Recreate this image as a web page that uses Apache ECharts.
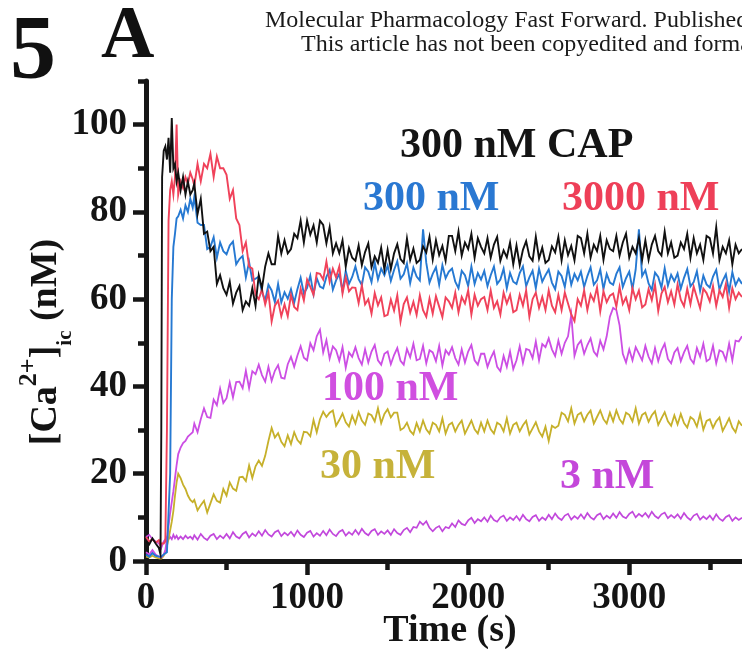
<!DOCTYPE html>
<html>
<head>
<meta charset="utf-8">
<script src="https://cdn.jsdelivr.net/npm/echarts@6/dist/echarts.min.js"></script>
<style>
html,body{margin:0;padding:0;background:#fff;}
#chart{width:742px;height:649px;}
</style>
</head>
<body>
<div id="chart"></div>
<script>
// Time points (s)
const times = [0,20,40,60,80,90,95,100,110,120,130,140,150,160,170,180,190,200,215,230,245,260,275,290,
300,320,340,360,380,400,420,440,460,480,
500,520,540,560,580,600,620,640,660,680,
700,720,740,760,780,800,820,840,860,880,
900,920,940,960,980,1000,1020,1040,1060,1080,
1100,1120,1140,1160,1180,1200,1220,1240,1260,1280,
1300,1320,1340,1360,1380,1400,1420,1440,1460,1480,
1500,1520,1540,1560,1580,1600,1620,1640,1660,1680,
1700,1720,1740,1760,1780,1800,1820,1840,1860,1880,
1900,1920,1940,1960,1980,2000,2020,2040,2060,2080,
2100,2120,2140,2160,2180,2200,2220,2240,2260,2280,
2300,2320,2340,2360,2380,2400,2420,2440,2460,2480,
2500,2520,2540,2560,2580,2600,2620,2640,2660,2680,
2700,2720,2740,2760,2780,2800,2820,2840,2860,2880,
2900,2920,2940,2960,2980,3000,3020,3040,3060,3080,
3100,3120,3140,3160,3180,3200,3220,3240,3260,3280,
3300,3320,3340,3360,3380,3400,3420,3440,3460,3480,
3500,3520,3540,3560,3580,3600,3620,3640,3660,3680,
3700];

// 300 nM CAP (black)
const cap300 = [4.5,3.8,5.2,4,3,1.5,30,88,94,95,92,97,89,101.5,90,91,87,89,85,88,84,87,84,85,
86.5,79.5,83,75,75.5,71,72,63.5,65.5,62.5,
61,64,59,61.5,63,57.5,59.5,58.5,62.5,58.5,
65.5,62.5,67.5,70.5,68,68,74.5,70.5,73.5,70.5,
71.5,75,74,78,73,78,74.8,76.9,73,78,
77,72.8,76.5,70.5,72.8,70.5,73.5,67.5,71.7,69.5,
68.8,72.3,67.8,70.8,72.8,67.3,69.8,68.3,71.8,66.8,
71.3,66.9,70.5,72.6,69.2,68.3,73.9,69,71.6,68.3,
69,72.1,70.7,74.3,69.1,73.5,70.1,72.2,68.8,74.5,
74.5,71,75.5,70,73,71.5,75,69.5,74,72,
70.5,74,69.5,72.5,74.3,68.8,71.2,69.6,73,68,
72.3,67.8,71.3,73.3,69.8,68.8,74.3,69.3,71.8,68.3,
69,72.1,70.7,74.3,68.9,73.5,70.1,72.2,68.9,74.5,
74,70.5,75,69.5,72.5,71,74.5,69,73.5,71.5,
71,74.5,70,73,75,69.5,72,70.5,74,69,
73.5,69,72.5,74.5,71,70,75.5,70.5,73,69.5,
70,73,71.5,75,69.5,74,70.5,72.5,69,74.5,
74,70.5,76.5,69,72,70.5,73.5,68,72.5,70.5,
71.5];

// 3000 nM (red)
const nM3000 = [5.5,4.5,5,4.2,4.8,3.5,4,3.8,4,4.5,30,78,85,87,84,88,100,84,87,85.5,88,86.5,89,87.5,
86,91,87,91,90,93.3,88,92.7,90,90,
88.5,83,85,78.5,77,71,73,67.5,67,61,
60,62.3,58.8,61.5,54.9,58.5,59.7,56.1,58.8,56.1,
61,58.2,57.5,62.4,59.7,64.5,62.8,61,66,65.8,
64.5,68.6,64,67,65,67.5,61.3,65,61.8,62.7,
62.6,59.1,63.2,58.8,60,56.7,61.4,58.6,60.4,56.1,
56.4,59.9,57.4,60.9,54.9,58.9,60.4,56.9,59.4,56.4,
60.9,57.5,56,60.1,56.7,60.7,58.3,55.9,60.4,59.5,
58,61.5,57,60.5,59,62,56.5,61,58.5,60,
60.5,57.5,62,58,59.5,56.5,61.5,59,61,57,
57.5,61,58.5,62,56,60,61.5,58,60.5,57.5,
62,58.5,57,61,57.5,61.5,59,56.5,55,60,
58.5,62,57.5,61.1,59.6,62.7,57.2,61.8,59.3,60.8,
61.3,58.3,62.8,58.9,60.4,57.5,62.5,60,62,58.1,
58.8,62.3,59.8,63.3,57.3,61.3,62.8,59.3,61.8,58.8,
63.4,59.9,58.4,62.4,58.9,62.9,60.4,57.9,62.4,61.4,
59.5,63,58.5,62,60.5,63.5,58,62.5,60,61.5,
60.5];

// 300 nM (blue)
const nM300 = [1.5,1,1.8,1.2,1,0.8,1,1.2,1.5,1.5,2,2,20,60,72,75,78.5,79,80.5,78.5,81.5,80,83,81,
83.5,77.5,77,77,71.5,72,74.2,69.5,73,71,
70.3,72.3,73.2,68,69.2,69.9,65,68.5,64.3,64.7,
65.2,61.6,59.7,63.3,62,59.3,63.5,59.3,61.6,60.1,
62.3,59.2,62.3,64.9,61.3,62.6,65.4,61.1,64.8,62.9,
62.5,65.1,66.7,62.2,64.3,65.8,61.9,66.5,63.5,65.1,
67.5,64.6,63.2,67.3,66.3,63.9,68.4,64.5,67,65.5,
67.7,64.2,66.7,68.7,64.7,65.7,68.2,63.7,67.2,65.2,
64.3,76,68.3,63.8,65.8,67.3,63.3,67.8,64.8,66.3,
67,64,62.5,66.5,65.5,63,67.5,63.5,66,64.5,
66.5,63,65.5,67.5,63.5,64.5,67,62.5,66,64,
63.5,66,67.5,63,65,66.5,62.5,67,64,65.5,
66.8,63.8,62.3,66.3,65.3,62.8,67.3,63.3,65.8,64.3,
66.3,62.8,65.3,67.3,63.3,64.3,66.8,62.3,65.8,63.8,
63.3,65.8,67.3,62.8,64.8,66.3,62.3,66.8,76,65.3,
66.6,63.6,62.1,66.1,65.1,62.6,67.1,63.1,65.6,64.1,
65.9,62.4,64.9,66.9,62.9,63.9,66.4,61.9,65.4,63.4,
62.7,65.2,66.7,62.2,64.2,65.7,61.7,66.2,63.2,64.7,
63.5];

// 100 nM (magenta)
const nM100 = [2,1.5,2.5,1.5,1,1,0.8,1,1.5,2.5,5,8,11,13.5,16,19,22,24.5,26,27,27.5,28.5,29,29.5,
31.5,29.5,32.5,35,33,32.8,37,35.7,39.5,36.2,
37.3,40.9,37.5,41,41.1,39.6,43.6,39.6,43.5,42.8,
45,42.6,41.1,44.5,41.3,43.6,44.9,42,41.8,45.1,
46.8,44.5,47.1,49.2,46.6,46,49.9,48.3,51.5,53,
47.8,50.6,46.4,49.2,48.3,45.9,49,44.3,47.8,46.8,
49,46.5,45,48.5,45.5,48,49.5,46,45,47.5,
48,45.1,47.2,48.8,45.9,45,48.6,46.7,49.8,46,
46.3,49.3,45.3,48.3,47.8,45.8,49.3,44.8,48.3,47.3,
49,46.5,45,48.5,45.5,48,49.5,46,45,47.5,
47.5,44.5,46.5,48,44.5,43.5,47,44.5,48,44,
46,49.2,45.4,48.6,48.3,46.5,50.3,46,49.7,49,
51,48.5,47,50.5,47.5,50,51.5,56.5,47,49.5,
50.5,47.5,49.5,51,48,47,50.5,48.5,51.5,56,
58,57.5,54,47.5,45.5,48.5,46,49,47.5,46,
49.3,46.8,45.3,48.8,45.8,48.3,49.8,46.3,45.3,47.8,
48.8,45.8,47.8,49.3,46.3,45.3,48.8,46.8,49.8,45.8,
46.3,49.3,45.3,48.3,47.9,46,49.8,46,50.5,50.3,
51.5];

// 30 nM (olive)
const nM30 = [1,0.8,1.2,0.8,0.6,0.5,0.5,0.8,1.2,2,3.5,5,7,9,11.5,15,18,20,19,17.5,16.5,15,14,13.5,
14,11.6,12.8,13.8,11.1,13.2,15.3,13.8,13.4,16.5,
15,18,16.6,16.1,19.2,19.3,18.3,21.9,19,21.7,
23,21.8,24.1,27.5,30.5,28.3,29.3,27.3,26.3,28.8,
26.8,29.5,27.7,26.9,29.6,29.5,28.6,32.3,29.5,32.5,
34.2,33,34,34.5,31,32.3,33.8,31.8,30.8,33.3,
31.5,34.1,32.2,31.2,33.8,33.4,32,35,31.6,33.7,
34.8,32.9,34,34,30,30.5,31.7,29.8,29,31.6,
29.7,32.2,30.2,29.2,31.7,31.2,29.7,32.7,29.2,31.2,
31.7,29.7,31.2,32.2,29.2,30.7,32.2,30.2,29.2,31.7,
29.7,32.2,30.2,29.2,31.7,31.2,29.7,32.7,29.2,31.2,
31.7,29.7,31.1,32.1,29,30.4,31.8,29.7,28.5,30.8,
27.5,31,30.5,31,34,33.5,32,35,31.5,33.5,
34,32,33.5,34.5,31.5,33,34.5,32.5,31.5,34,
32,34.5,32.5,31.5,34,33.5,32,35,31.5,33.5,
34,31.9,33.4,34.3,31.2,32.7,34.1,32,31,33.4,
31.3,33.7,31.6,30.6,33,32.4,30.8,33.7,30.1,32.1,
32.5,30.5,32,32.9,29.8,31.2,32.7,30.6,29.5,32,
31];

// 3 nM (magenta)
const nM3 = [5.5,6,5,4.5,4,3.5,3,3.5,4.5,5,5.5,5,5.5,5,6,5.2,5.8,5,5.6,5,5.8,5.2,5.6,5,
5.9,4.9,6.2,5.3,4.8,5.8,6.2,5,5.8,5.2,
6.2,5.2,6.6,5.6,5.2,6.2,6.7,5.4,6.3,5.7,
6.8,5.8,7.1,6.1,5.6,6.6,7,5.7,6.5,5.9,
6.7,5.7,7,6,5.5,6.5,6.9,5.6,6.4,5.8,
6.9,5.9,7.2,6.2,5.7,6.7,7.1,5.8,6.6,6,
7.1,6.1,7.4,6.4,5.9,6.9,7.3,6,6.8,6.2,
7,6,7.3,6.4,6,7.1,7.6,6.6,7.8,7.6,
9,8.3,9.1,7.6,6.8,7.6,8,6.8,7.8,7.5,
8.6,7.8,9.3,8.5,8.2,9.3,9.9,8.7,9.6,9.1,
10,9,10.4,9.4,9,10,10.4,9.2,10,9.4,
10.3,9.3,10.6,9.6,9.1,10.1,10.5,9.2,10,9.4,
10.6,9.6,10.9,9.9,9.4,10.4,10.8,9.5,10.3,9.7,
10.7,9.7,11,10,9.5,10.5,10.9,9.6,10.4,9.8,
10.9,9.9,11.2,10.2,9.8,10.8,11.3,10,10.8,10.2,
11,10,11.3,10.3,9.8,10.7,11.1,9.8,10.5,9.9,
10.7,9.7,11,10,9.4,10.4,10.8,9.5,10.2,9.6,
10.4,9.4,10.7,9.7,9.2,10.1,10.5,9.2,10,9.4,
9.9];

const xMajorTicks = [0,1000,2000,3000];
const xMinorTicks = [500,1500,2500,3500];
const yMajorTicks = [0,20,40,60,80,100];
const yMinorTicks = [10,30,50,70,90,110];

const seriesNames = ['3 nM','30 nM','100 nM','300 nM','3000 nM','300 nM CAP'];
const seriesValues = [nM3, nM30, nM100, nM300, nM3000, cap300];
const seriesColors = ['#c248dc','#c6b02a','#cc4ee4','#2679d2','#f0425a','#111111'];
const seriesWidths = [1.7, 1.8, 1.8, 1.9, 1.9, 1.9];

function pairs(vals){ return times.map(function(t,i){ return [t, vals[i]]; }); }
seriesValues.forEach(function(v,i){ if (v.length !== times.length) console.error(seriesNames[i]+' length '+v.length+' vs '+times.length); });

const SERIF = '"Liberation Serif","Times New Roman",serif';
const axisColor = '#161616';
function plain(v){ return String(v); }

const chart = echarts.init(document.getElementById('chart'), null, {renderer:'canvas'});
const option = {
  backgroundColor:'#ffffff',
  animation:false,
  grid:{left:146, right:0, top:81, bottom:88, containLabel:false},
  xAxis:[{
    type:'value', min:0, max:3700, position:'bottom',
    splitLine:{show:false},
    axisLine:{show:true, lineStyle:{color:axisColor, width:5}},
    axisTick:{show:true, customValues:xMajorTicks, length:14, lineStyle:{color:axisColor, width:4.5}},
    axisLabel:{customValues:xMajorTicks, formatter:plain, margin:19, fontFamily:SERIF, fontWeight:'bold', fontSize:37, color:'#141414'}
  },{
    type:'value', min:0, max:3700, position:'bottom',
    splitLine:{show:false},
    axisLine:{show:false},
    axisTick:{show:true, customValues:xMinorTicks, length:9, lineStyle:{color:axisColor, width:4.5}},
    axisLabel:{show:false}
  }],
  yAxis:[{
    type:'value', min:0, max:110, position:'left',
    splitLine:{show:false},
    axisLine:{show:true, lineStyle:{color:axisColor, width:5}},
    axisTick:{show:true, customValues:yMajorTicks, length:13, lineStyle:{color:axisColor, width:4.5}},
    axisLabel:{customValues:yMajorTicks, formatter:plain, margin:19, fontFamily:SERIF, fontWeight:'bold', fontSize:37, color:'#141414'}
  },{
    type:'value', min:0, max:110, position:'left',
    splitLine:{show:false},
    axisLine:{show:false},
    axisTick:{show:true, customValues:yMinorTicks, length:8, lineStyle:{color:axisColor, width:4.5}},
    axisLabel:{show:false}
  }],
  series: seriesValues.map(function(v,i){
    return {
      name:seriesNames[i], type:'line', xAxisIndex:0, yAxisIndex:0,
      data:pairs(v), showSymbol:false, symbol:'none', silent:true,
      lineStyle:{color:seriesColors[i], width:seriesWidths[i], join:'miter'}, z:2+i
    };
  }),
  graphic:[
    {type:'text', x:10, y:54, style:{text:'5', fontFamily:SERIF, fontWeight:'bold', fontSize:92, fill:'#111', align:'left', verticalAlign:'middle'}},
    {type:'text', x:101, y:38, style:{text:'A', fontFamily:SERIF, fontWeight:'bold', fontSize:74, fill:'#111', align:'left', verticalAlign:'middle'}},
    {type:'text', x:265, y:21, style:{text:'Molecular Pharmacology Fast Forward. Published on', fontFamily:SERIF, fontSize:24, fill:'#1a1a1a', align:'left', verticalAlign:'middle'}},
    {type:'text', x:301, y:45, style:{text:'This article has not been copyedited and formatted.', fontFamily:SERIF, fontSize:24, fill:'#1a1a1a', align:'left', verticalAlign:'middle'}},
    {type:'text', x:400, y:146, style:{text:'300 nM CAP', fontFamily:SERIF, fontWeight:'bold', fontSize:42, fill:'#141414', align:'left', verticalAlign:'middle'}},
    {type:'text', x:363, y:199, style:{text:'300 nM', fontFamily:SERIF, fontWeight:'bold', fontSize:42, fill:'#2a78d2', align:'left', verticalAlign:'middle'}},
    {type:'text', x:562, y:199, style:{text:'3000 nM', fontFamily:SERIF, fontWeight:'bold', fontSize:42, fill:'#ee3f58', align:'left', verticalAlign:'middle'}},
    {type:'text', x:322, y:389, style:{text:'100 nM', fontFamily:SERIF, fontWeight:'bold', fontSize:42, fill:'#d04fe0', align:'left', verticalAlign:'middle'}},
    {type:'text', x:320, y:467, style:{text:'30 nM', fontFamily:SERIF, fontWeight:'bold', fontSize:42, fill:'#c6b23a', align:'left', verticalAlign:'middle'}},
    {type:'text', x:560, y:477, style:{text:'3 nM', fontFamily:SERIF, fontWeight:'bold', fontSize:42, fill:'#c447da', align:'left', verticalAlign:'middle'}},
    {type:'text', x:450, y:631, style:{text:'Time (s)', fontFamily:SERIF, fontWeight:'bold', fontSize:38, fill:'#141414', align:'center', verticalAlign:'middle'}},
    {type:'text', x:46, y:342, rotation:Math.PI/2, style:{
      text:'{m|[Ca}{sup|2+}{m|]}{sub|ic}{m| (nM)}', align:'center', verticalAlign:'middle', fill:'#141414',
      rich:{
        m:{fontFamily:SERIF, fontWeight:'bold', fontSize:38, lineHeight:60, verticalAlign:'middle', fill:'#141414'},
        sup:{fontFamily:SERIF, fontWeight:'bold', fontSize:26, lineHeight:26, verticalAlign:'top', fill:'#141414'},
        sub:{fontFamily:SERIF, fontWeight:'bold', fontSize:21, lineHeight:44, verticalAlign:'bottom', fill:'#141414'}
      }
    }}
  ]
};
chart.setOption(option);
</script>
</body>
</html>
